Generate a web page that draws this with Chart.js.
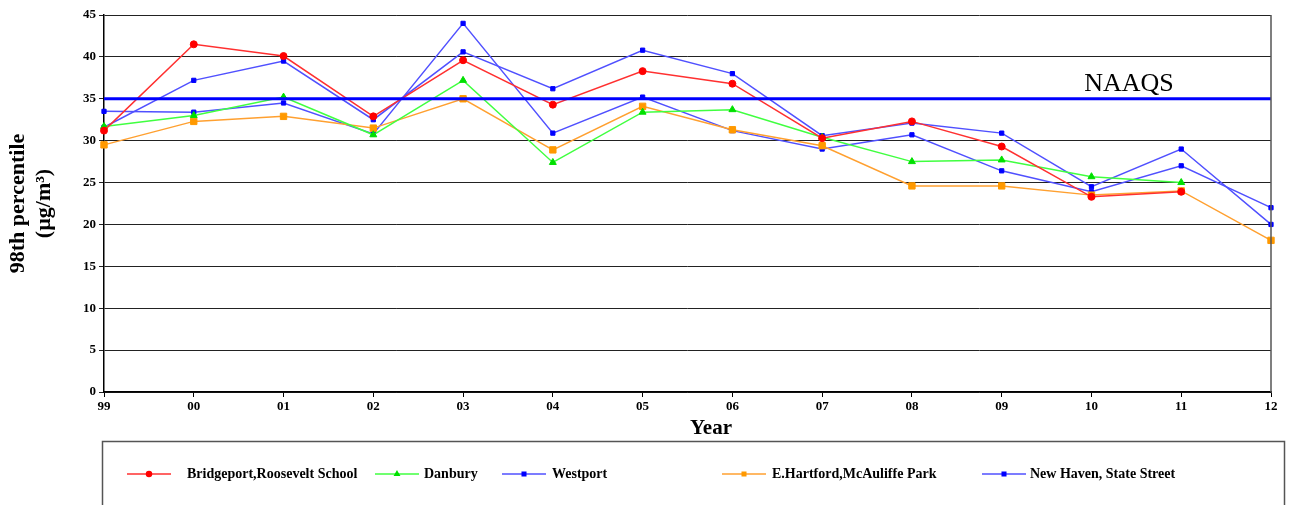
<!DOCTYPE html>
<html>
<head>
<meta charset="utf-8">
<script src="https://cdn.jsdelivr.net/npm/chart.js@4/dist/chart.umd.min.js"></script>
<style>
  html, body { margin: 0; padding: 0; background: #fff; }
  #wrap { width: 1291px; height: 505px; position: relative; }
</style>
</head>
<body>
<div id="wrap"><canvas id="chart"></canvas></div>
<script>
// chart data
var years = ['99','00','01','02','03','04','05','06','07','08','09','10','11','12'];
var yTicks = [0, 5, 10, 15, 20, 25, 30, 35, 40, 45];
var naaqsLevel = 35;

var bridgeport = [31.2, 41.5, 40.1, 32.9, 39.6, 34.3, 38.3, 36.8, 30.3, 32.3, 29.3, 23.3, 23.9, null];
var danbury    = [31.7, 33.0, 35.2, 30.7, 37.2, 27.4, 33.4, 33.7, 30.4, 27.5, 27.7, 25.7, 25.0, null];
var westport   = [31.6, 37.2, 39.5, 32.5, 40.6, 36.2, 40.8, 38.0, 30.6, 32.1, 30.9, 24.5, 29.0, 20.0];
var eHartford  = [29.5, 32.3, 32.9, 31.5, 35.0, 28.9, 34.1, 31.3, 29.4, 24.6, 24.6, 23.5, 24.0, 18.1];
var newHaven   = [33.5, 33.4, 34.5, 30.8, 44.0, 30.9, 35.2, 31.2, 29.0, 30.7, 26.4, 23.9, 27.0, 22.0];

var serif = '"Liberation Serif", "Times New Roman", serif';

function series(label, data, line, mark, style, radius) {
	return {
		label: label,
		data: data,
		borderColor: line,
		backgroundColor: mark,
		pointBorderColor: mark,
		pointBackgroundColor: mark,
		pointStyle: style,
		pointRadius: radius,
		pointBorderWidth: 1,
		borderWidth: 1.5,
		tension: 0,
		spanGaps: false
	};
}

var datasets = [
	{
		label: 'NAAQS',
		data: years.map(function () { return naaqsLevel; }),
		borderColor: '#0000ff',
		borderWidth: 3,
		pointRadius: 0,
		tension: 0
	},
	series('Bridgeport,Roosevelt School', bridgeport, '#ff3030', '#ff0000', 'circle', 3.5),
	series('Danbury', danbury, '#40ff40', '#00e000', 'triangle', 4),
	series('Westport', westport, '#5050ff', '#0000ff', 'rect', 3),
	series('E.Hartford,McAuliffe Park', eHartford, '#ffa030', '#ff9900', 'rect', 4.5),
	series('New Haven, State Street', newHaven, '#5050ff', '#0000ff', 'rect', 3)
];

// legend x positions: [line start, text start]
var legendSlots = [[127, 187], [375, 424], [502, 552], [722, 772], [982, 1030]];

var extras = {
	id: 'extras',
	afterDraw: function (chart) {
		var ctx = chart.ctx;
		var area = chart.chartArea;
		var ys = chart.scales.y;
		ctx.save();
		// right border of plot
		ctx.strokeStyle = '#555';
		ctx.lineWidth = 1.5;
		ctx.beginPath();
		ctx.moveTo(area.right, area.top);
		ctx.lineTo(area.right, area.bottom);
		ctx.stroke();

		// NAAQS label
		ctx.fillStyle = '#000';
		ctx.font = '26px ' + serif;
		ctx.textAlign = 'center';
		ctx.textBaseline = 'alphabetic';
		ctx.fillText('NAAQS', area.right - 142, ys.getPixelForValue(naaqsLevel) - 8);

		// x axis title
		ctx.font = 'bold 21px ' + serif;
		ctx.fillText('Year', 711, 434);

		// legend box
		ctx.strokeStyle = '#555';
		ctx.lineWidth = 1.5;
		ctx.strokeRect(102.5, 441.5, 1182, 80);

		var ly = 474;
		ctx.font = 'bold 14px ' + serif;
		ctx.textAlign = 'left';
		ctx.textBaseline = 'middle';
		for (var i = 1; i < datasets.length; i++) {
			var ds = datasets[i];
			var slot = legendSlots[i - 1];
			ctx.strokeStyle = ds.borderColor;
			ctx.lineWidth = 1.5;
			ctx.beginPath();
			ctx.moveTo(slot[0], ly);
			ctx.lineTo(slot[0] + 44, ly);
			ctx.stroke();
			ctx.fillStyle = ds.pointBackgroundColor;
			ctx.strokeStyle = ds.pointBorderColor;
			Chart.helpers.drawPoint(ctx, {
				pointStyle: ds.pointStyle,
				radius: 2.5,
				borderWidth: 1
			}, slot[0] + 22, ly);
			ctx.fillStyle = '#000';
			ctx.fillText(ds.label, slot[1], ly);
		}
		ctx.restore();
	}
};

new Chart(document.getElementById('chart'), {
	type: 'line',
	data: { labels: years, datasets: datasets },
	options: {
		responsive: true,
		maintainAspectRatio: false,
		animation: false,
		layout: { padding: { top: 15, right: 20, bottom: 64, left: 0 } },
		plugins: {
			legend: { display: false },
			tooltip: { enabled: false }
		},
		scales: {
			x: {
				offset: false,
				grid: { display: true, drawOnChartArea: false, drawTicks: true, tickLength: 5, color: '#000' },
				border: { color: '#000', width: 1.5 },
				ticks: { color: '#000', font: { family: serif, size: 13, weight: 'bold' }, padding: 2, maxRotation: 0, autoSkip: false },
				afterFit: function (s) { s.height = 49; }
			},
			y: {
				min: 0,
				max: 45,
				afterBuildTicks: function (s) { s.ticks = yTicks.map(function (v) { return { value: v }; }); },
				grid: { color: '#222', lineWidth: 1, tickLength: 5 },
				border: { color: '#000', width: 1.5 },
				ticks: { color: '#000', font: { family: serif, size: 13, weight: 'bold' }, padding: 3 },
				title: { display: true, text: ['98th percentile', '(\u00b5g/m\u00b3)'], color: '#000', font: { family: serif, size: 22, weight: 'bold', lineHeight: 1.2 }, padding: { top: 5, bottom: 0 } },
				afterFit: function (s) { s.width = 104; }
			}
		}
	},
	plugins: [extras]
});
</script>
</body>
</html>
